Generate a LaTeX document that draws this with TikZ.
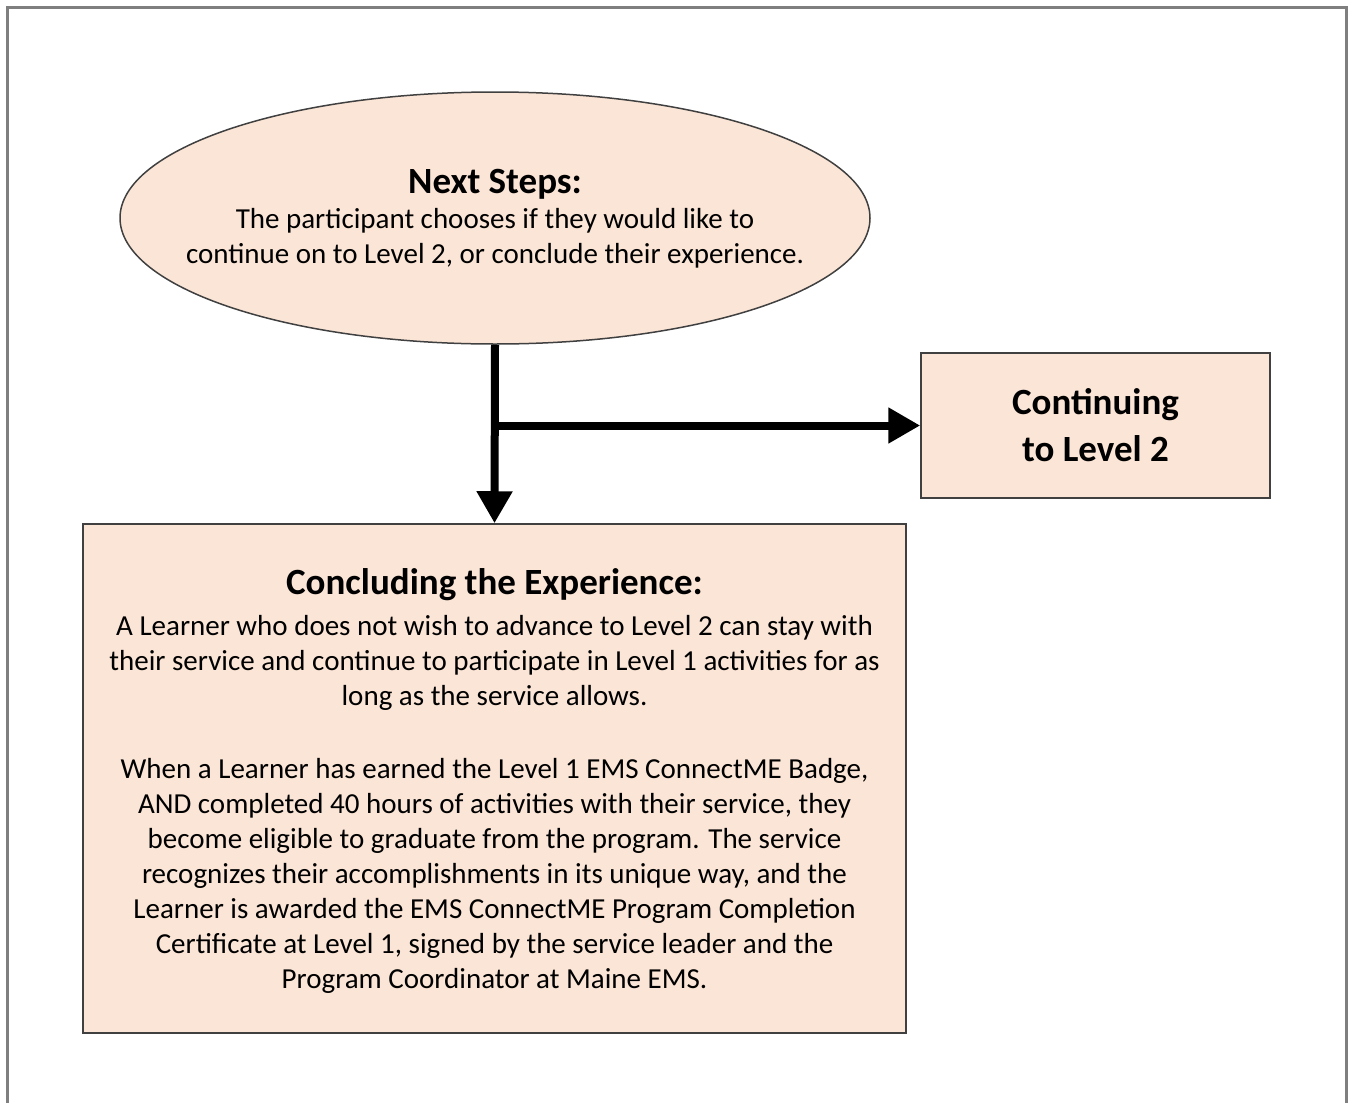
\documentclass[tikz,border=0pt]{standalone}
\usepackage{fontspec}
\setmainfont{Carlito}
\usetikzlibrary{shapes.geometric,arrows.meta}
\definecolor{peach}{HTML}{FBE5D6}
\definecolor{framegray}{HTML}{7F7F7F}
\definecolor{edge}{HTML}{404040}
\tikzset{
  shapebox/.style={draw=edge, line width=1.5pt, fill=peach, align=center, inner sep=0pt},
  arr/.style={line width=8pt, -{Triangle[length=32pt,width=34pt]}},
  body/.style={font=\fontsize{29}{35}\selectfont},
  head/.style={font=\fontsize{37}{47}\selectfont\bfseries},
}
\begin{document}
\begin{tikzpicture}[x=1pt,y=-1pt]
\useasboundingbox (0,0) rectangle (1350,1103);
\draw[framegray, line width=3pt] (7,1110) -- (7,7) -- (1346,7) -- (1346,1110);
\node[shapebox, ellipse, minimum width=750pt, minimum height=252pt] (e) at (495,218) {};
\node[body, align=center] (et) at (495,218.5) {{\fontsize{37}{38}\selectfont\bfseries Next Steps:}\\
The participant chooses if they would like to\\
continue on to Level 2, or conclude their experience.};
\node[shapebox, minimum width=349pt, minimum height=145pt, head] (r) at (1095.5,425.5) {Continuing\\to Level 2};
\node[shapebox, minimum width=823pt, minimum height=509pt, body] (b) at (494.5,778.5) {\rule{0pt}{5pt}\\[-10pt]{\fontsize{37}{38}\selectfont\bfseries Concluding the Experience:}\\[6pt]
A Learner who does not wish to advance to Level 2 can stay with\\
their service and continue to participate in Level 1 activities for as\\
long as the service allows.\\[38pt]
When a Learner has earned the Level 1 EMS ConnectME Badge,\\
AND completed 40 hours of activities with their service, they\\
become eligible to graduate from the program. The service\\
recognizes their accomplishments in its unique way, and the\\
Learner is awarded the EMS ConnectME Program Completion\\
Certificate at Level 1, signed by the service leader and the\\
Program Coordinator at Maine EMS.};
\draw[arr] (e.south) -- (b.north);
\coordinate (j) at (e.south |- r.west);
\draw[arr] (j) -- (r.west);
\end{tikzpicture}
\end{document}
